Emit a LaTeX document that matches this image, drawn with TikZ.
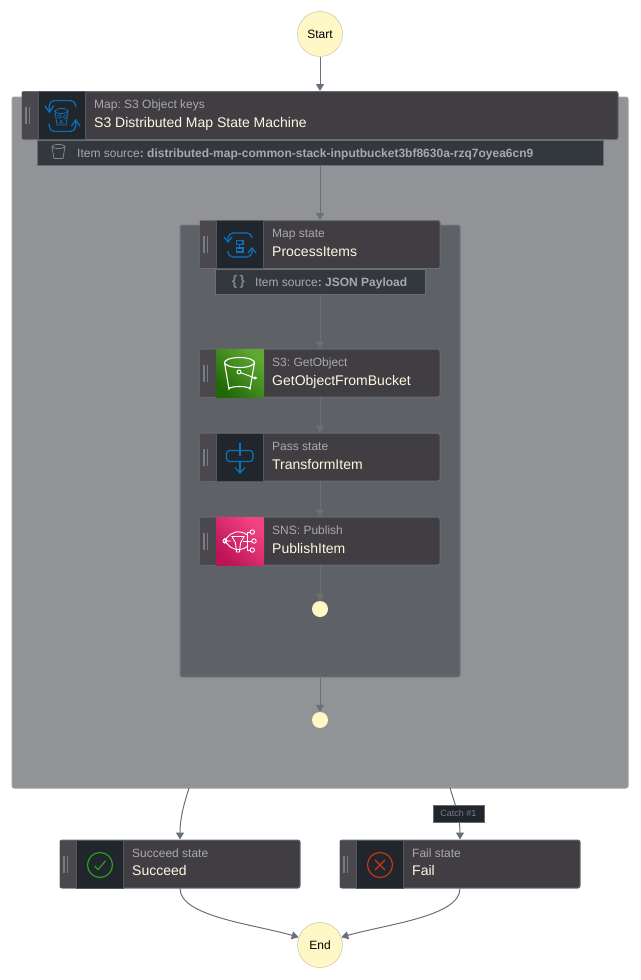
\documentclass[tikz,border=0pt]{standalone}
\usepackage{fontspec}
\setmainfont{Liberation Sans}
\usepackage{xcolor}
\usetikzlibrary{arrows.meta}
\frenchspacing
\definecolor{mapouter}{HTML}{929397}
\definecolor{mapinner}{HTML}{5E6267}
\definecolor{boxfill}{HTML}{413E43}
\definecolor{boxline}{HTML}{6A6D72}
\definecolor{handle}{HTML}{4A484D}
\definecolor{darkfill}{HTML}{21262D}
\definecolor{subtext}{HTML}{A9A9AD}
\definecolor{titletext}{HTML}{FBFADF}
\definecolor{bubble}{HTML}{FFF8C6}
\definecolor{wire}{HTML}{687078}
\definecolor{iconblue}{HTML}{0A73BE}
\definecolor{greenlow}{HTML}{1F6A07}
\definecolor{greenhigh}{HTML}{60A832}
\definecolor{pinklow}{HTML}{BC1356}
\definecolor{pinkhigh}{HTML}{F34482}
\definecolor{okgreen}{HTML}{2AA01C}
\definecolor{badred}{HTML}{C7361A}
\tikzset{
  loopicon/.pic={
    \draw[iconblue, line width=1.2pt, rounded corners=5pt] (-12,-4)--(-12,-12)--(12,-12)--(12,-7);
    \draw[iconblue, line width=1.2pt, rounded corners=5pt] (12,4)--(12,12)--(-12,12)--(-12,6);
    \draw[iconblue, line width=1.2pt] (-16,-8)--(-12,-3)--(-8,-8);
    \draw[iconblue, line width=1.2pt] (8,8)--(12,3)--(16,8);
  }
}

\begin{document}
\begin{tikzpicture}[x=1pt, y=-1pt, font=\fontsize{12}{14}\selectfont]
\tikzstyle{vertex}=[circle, draw=bubble!75!black, fill=bubble, text=black, minimum size=45pt, inner sep=0pt]
\tikzstyle{dot}=[circle, fill=bubble, minimum size=16pt, inner sep=0pt]
\tikzstyle{statebox}=[draw=boxline, fill=boxfill, rounded corners=2pt, line width=1pt, minimum width=240pt, minimum height=48pt, inner sep=0pt]
\tikzstyle{mapback}=[rounded corners=2pt, line width=1pt, inner sep=0pt]
\tikzstyle{sourcebar}=[draw=boxline, fill=darkfill!92!white, line width=1pt, minimum height=25pt, inner sep=0pt]
\tikzstyle{iconbox}=[draw=boxline!80!black, line width=.6pt, fill=darkfill, minimum width=47pt, minimum height=48pt, inner sep=0pt]
\tikzstyle{colorbox}=[minimum width=48pt, minimum height=48pt, inner sep=0pt]
\tikzstyle{subtitle}=[anchor=base west, inner sep=0pt, text=subtext]
\tikzstyle{title}=[anchor=base west, inner sep=0pt, text=titletext, font=\fontsize{14}{16}\selectfont]
\tikzstyle{source}=[anchor=base west, inner sep=0pt, text=subtext]
\tikzstyle{wired}=[draw=wire, line width=1pt, -{Triangle[length=7pt, width=8pt]}]
\useasboundingbox (0,0) rectangle (640,980);

\node[vertex] (start) at (320,34) {Start};
\node[vertex] (end) at (320,945) {End};

\node[mapback, draw=mapouter!85!white, fill=mapouter, minimum width=616pt, minimum height=691pt] (outer) at (320,442.5) {};
\node[mapback, draw=mapinner!85!white, fill=mapinner, minimum width=280pt, minimum height=452pt] (inner) at (320,451) {};

\node[sourcebar, minimum width=566pt] (outerbar) at (320,153) {};
\node[sourcebar, minimum width=210pt] (innerbar) at (320,282) {};

\node[statebox, minimum width=596pt] (mapitems) at (320,115.5) {};
\node[statebox] (process) at (320,244.5) {};
\node[statebox] (getobj) at (320,373) {};
\node[statebox] (pass) at (320,457) {};
\node[statebox] (publish) at (320,541) {};
\node[statebox] (succeed) at (180,864) {};
\node[statebox] (fail) at (460,864) {};

\foreach \n in {mapitems,process,getobj,pass,publish,succeed,fail} {
  \fill[handle] ([yshift=23.5pt, xshift=.5pt]\n.west) rectangle ([yshift=-23.5pt, xshift=16pt]\n.west);
  \draw[boxline!90!white, line width=1.5pt] ([xshift=4.5pt, yshift=8.5pt]\n.west) -- ([xshift=4.5pt, yshift=-8.5pt]\n.west);
  \draw[boxline!90!white, line width=1.5pt] ([xshift=8pt, yshift=8.5pt]\n.west) -- ([xshift=8pt, yshift=-8.5pt]\n.west);
}

\node[iconbox] (mapicon) at (61.5,115.5) {};
\node[iconbox] (processicon) at (240,244.5) {};
\node[colorbox, bottom color=greenlow, top color=greenhigh, shading angle=-45] (getobjicon) at (240,373) {};
\node[iconbox] (passicon) at (240,457) {};
\node[colorbox, bottom color=pinklow, top color=pinkhigh, shading angle=-45] (publishicon) at (240,541) {};
\node[iconbox] (succeedicon) at (100,864) {};
\node[iconbox] (failicon) at (380,864) {};

% icons
\pic[xscale=1.1, yscale=1.28] at (62.5,116) {loopicon};
\draw[iconblue, line width=.8pt] (61.5,111) ellipse (6.5pt and 2.5pt);
\draw[iconblue, line width=.8pt] (55,111)--(57,125)--(66,125)--(68,111);
\draw[iconblue, line width=.6pt] (58,115) rectangle (61,118) (65,117) circle (1.7pt) (59.5,123)--(61,120)--(63,123)--cycle;

\pic at (240,245) {loopicon};
\draw[iconblue, line width=1.1pt] (236.5,240.5) rectangle (243,244.5) (236.5,248) rectangle (243,252);
\draw[iconblue, line width=1.1pt] (239.7,244.5)--(239.7,248);

\draw[white, line width=1.1pt] (239.5,362.5) ellipse (15pt and 5pt);
\draw[white, line width=1.1pt] (224.5,362.5)--(229,389) arc[start angle=180, end angle=360, x radius=10.5pt, y radius=-2.5pt]--(254.5,362.5);
\draw[white, line width=.9pt] (239,372) circle (2pt) (241,372.8)--(253.5,377.5);
\draw[white, line width=.9pt] (255,378) circle (1.5pt and 1pt);

\draw[iconblue, line width=1.2pt, rounded corners=3pt] (226.5,450.5) rectangle (253,461.5);
\draw[iconblue, line width=1.2pt] (240,442.5)--(240,456);
\draw[iconblue, line width=1.2pt] (240,461.5)--(240,472.5);
\draw[iconblue, line width=1.2pt] (235,467.5)--(240,473)--(245,467.5);

\draw[white, line width=.9pt] (224.6,538) arc[start angle=190, end angle=310, radius=14pt];
\draw[white, line width=.9pt] (224.6,543.4) arc[start angle=170, end angle=50, radius=14pt];
\draw[white, line width=.9pt] (225,541) circle (2pt) (227,541)--(231,541);
\draw[white, line width=.9pt] (232,536.5)--(244,536.5)--(240.5,543)--(239.5,552)--(236.5,552)--(235.5,543)--cycle;
\draw[white, line width=.9pt] (243,541)--(251.8,541) (247,532)--(247,550) (247,532)--(250,532) (247,550)--(250,550);
\draw[white, line width=.9pt] (252.3,532) circle (2.2pt) (254,541) circle (2.2pt) (252.3,550) circle (2.2pt);

\draw[okgreen, line width=1.2pt] (100,865) circle (12.5pt);
\draw[okgreen, line width=1.2pt] (94.5,866)--(98,869.5)--(105.5,861);
\draw[badred, line width=1.2pt] (380,865) circle (12.5pt);
\draw[badred, line width=1.2pt] (375,860)--(385,870) (385,860)--(375,870);

% texts
\node[subtitle] (maptype) at (94,108) {Map: S3 Object keys};
\node[title] (maptitle) at (94,127) {S3 Distributed Map State Machine};
\node[subtitle] (processtype) at (272,237) {Map state};
\node[title] (processtitle) at (272,256) {ProcessItems};
\node[subtitle] (getobjtype) at (272,366) {S3: GetObject};
\node[title] (getobjtitle) at (272,385) {GetObjectFromBucket};
\node[subtitle] (passtype) at (272,450) {Pass state};
\node[title] (passtitle) at (272,469) {TransformItem};
\node[subtitle] (publishtype) at (272,534) {SNS: Publish};
\node[title] (publishtitle) at (272,553) {PublishItem};
\node[subtitle] (succeedtype) at (132,857) {Succeed state};
\node[title] (succeedtitle) at (132,875) {Succeed};
\node[subtitle] (failtype) at (412,857) {Fail state};
\node[title] (failtitle) at (412,875) {Fail};

\node[source] (outersource) at (77,157) {Item source\textbf{: distributed-map-common-stack-inputbucket3bf8630a-rzq7oyea6cn9}};
\node[source] (innersource) at (255,286) {Item source\textbf{: JSON Payload}};
\node[anchor=center, inner sep=0pt, text=boxline!85!white, font=\fontsize{14}{16}\bfseries\selectfont] (braces) at (238.5,281.5) {\{\,\}};
\draw[boxline!85!white, line width=.8pt] (58.5,146.5) ellipse (6.5pt and 2pt);
\draw[boxline!85!white, line width=.8pt] (52,146.5)--(54,158.5)--(63,158.5)--(65,146.5);

% connectors
\node[dot] (innerdot) at (320,609) {};
\node[dot] (outerdot) at (320,720) {};
\coordinate (succeedout) at (189,788);
\coordinate (failout) at (450,788);

\path
(start) edge[wired] (mapitems)
(outerbar) edge[wired] (process)
(inner) edge[wired] (outerdot)
(innerbar) edge[wired] (getobj)
(getobj) edge[wired] (pass)
(pass) edge[wired] (publish)
(publish) edge[wired] (innerdot);

\draw[wired] (succeedout) .. controls +(-5,16) and +(0,-22) .. (succeed.north);
\draw[wired] (failout) .. controls +(5,16) and +(0,-22) .. (fail.north);
\draw[wired] (succeed.south) .. controls +(0,28) and +(-45,-13) .. (end.160);
\draw[wired] (fail.south) .. controls +(0,28) and +(45,-13) .. (end.20);

\node[draw=boxline, fill=darkfill, text=boxline!90!white, font=\fontsize{9}{11}\selectfont, minimum width=51pt, minimum height=17pt, inner sep=0pt] (catch) at (458.5,813.5) {Catch \#1};

\end{tikzpicture}
\end{document}
